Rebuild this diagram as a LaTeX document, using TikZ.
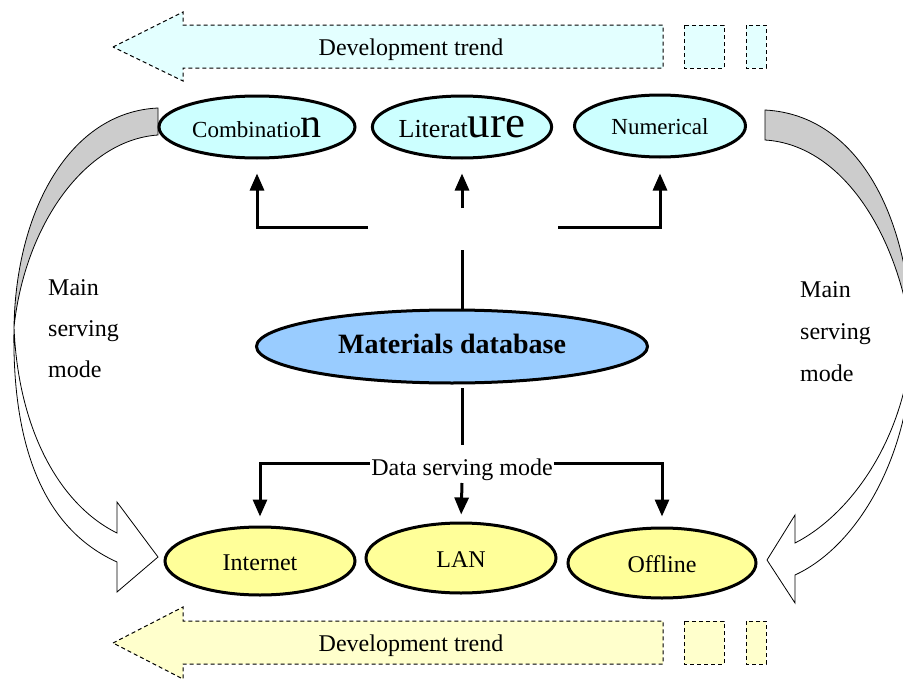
\documentclass[tikz,border=0pt]{standalone}
\usepackage{fontspec}
\setmainfont{Liberation Serif}
\usetikzlibrary{shapes.geometric,arrows.meta}
\definecolor{cyanfill}{HTML}{CCFFFF}
\definecolor{trendcyan}{HTML}{E3FFFF}
\definecolor{yellowfill}{HTML}{FFFF99}
\definecolor{trendyellow}{HTML}{FFFFCC}
\definecolor{dbblue}{HTML}{99CCFF}
\definecolor{bandgray}{HTML}{CCCCCC}
\begin{document}
\begin{tikzpicture}[x=1pt,y=-1pt,
  oval/.style={ellipse, draw, line width=3pt, inner sep=0pt},
  topoval/.style={oval, fill=cyanfill, text height=20pt, text depth=0pt, font=\fontsize{23}{23}\selectfont},
  botoval/.style={oval, fill=yellowfill, text height=18pt, text depth=0pt, font=\fontsize{24}{24}\selectfont},
  conn/.style={line width=3pt},
  connarrow/.style={line width=3pt, -{Triangle[length=17pt,width=14pt]}},
  trend/.style={draw, dash pattern=on 4pt off 3pt, line width=1pt},
  band/.style={draw, line width=0.8pt},
  lbl/.style={font=\fontsize{24}{24}\selectfont, inner sep=0pt}
]
\useasboundingbox (0,0) rectangle (903,680);
\clip (0,0) rectangle (903,680);

% development trend arrows
\path[trend, fill=trendcyan] (113,47) -- (183,12) -- (183,25) -- (663,25) -- (663,68) -- (183,68) -- (183,81) -- cycle;
\path[trend, fill=trendcyan] (684,25) rectangle (724,68);
\path[trend, fill=trendcyan] (746,25) rectangle (766,68);
\node[lbl, anchor=base] (trendtop) at (411,55) {Development trend};

\path[trend, fill=trendyellow] (113,643) -- (183,607) -- (183,621) -- (663,621) -- (663,664) -- (183,664) -- (183,679) -- cycle;
\path[trend, fill=trendyellow] (684,621) rectangle (724,664);
\path[trend, fill=trendyellow] (746,621) rectangle (766,664);
\node[lbl, anchor=base] (trendbot) at (411,651) {Development trend};

% curved band arrows, left
\path[band, fill=bandgray] (158,108) .. controls (70,112) and (16,210) .. (14,327)
   .. controls (25,225) and (85,140) .. (158,135) -- cycle;
\path[band, fill=white] (14,327) .. controls (12,430) and (35,525) .. (117,562)
   -- (117,592) -- (158,557) -- (117,502) -- (117,533)
   .. controls (60,505) and (18,430) .. (14,327) -- cycle;
% right
\path[band, fill=bandgray] (765,110) .. controls (860,115) and (910,220) .. (912,340)
   .. controls (900,240) and (845,145) .. (765,140) -- cycle;
\path[band, fill=white] (912,340) .. controls (913,450) and (860,545) .. (795,575)
   -- (795,603) -- (767,560) -- (795,515) -- (795,543)
   .. controls (850,515) and (905,440) .. (912,340) -- cycle;

\node[lbl, anchor=base west] (lm1) at (48,295) {Main};
\node[lbl, anchor=base west] (lm2) at (48,336) {serving};
\node[lbl, anchor=base west] (lm3) at (48,377) {mode};
\node[lbl, anchor=base west] (rm1) at (800,297) {Main};
\node[lbl, anchor=base west] (rm2) at (800,339) {serving};
\node[lbl, anchor=base west] (rm3) at (800,381) {mode};

% top ellipses
\node[topoval, minimum width=196pt, minimum height=62pt] (comb) at (257,127) {Combinatio{\fontsize{42}{42}\selectfont n}};
\node[topoval, minimum width=168pt, minimum height=62pt, font=\fontsize{26}{26}\selectfont] (lit) at (462,127) {Literat{\fontsize{45}{45}\selectfont ure}};
\node[topoval, minimum width=171pt, minimum height=62pt, text height=17pt] (num) at (660,126) {Numerical};

% database
\node[oval, fill=dbblue, minimum width=391pt, minimum height=73pt, text height=14pt, text depth=0pt,
      font=\fontsize{28}{28}\selectfont\bfseries] (db) at (452,346.5) {Materials database};

% bottom ellipses
\node[botoval, minimum width=190pt, minimum height=68pt] (inet) at (260,561) {Internet};
\node[botoval, minimum width=190pt, minimum height=70pt] (lan) at (461,558) {LAN};
\node[botoval, minimum width=188pt, minimum height=70pt] (off) at (662,563) {Offline};

% upper connectors
\coordinate (ctl) at (368,227);
\coordinate (ctm) at (462,208);
\coordinate (ctr) at (558,227);
\coordinate (dbtop) at (462,250);
\draw[connarrow, shorten >=14pt] (ctl) -| (comb.south);
\draw[connarrow, shorten >=14pt] (ctm) -- (lit.south);
\draw[connarrow, shorten >=15pt] (ctr) -| (num.south);
\draw[conn] (dbtop) -- (dbtop |- db.north);

% lower connectors
\coordinate (dbbot) at (462,388);
\coordinate (dbjoin) at (462,445);
\node[lbl, anchor=base] (dsm) at (462,475) {Data serving mode};
\coordinate (cbl) at ([xshift=-1pt]dsm.west |- 0,463);
\coordinate (cbr) at ([xshift=1pt]dsm.east |- 0,463);
\coordinate (cbm) at (462,483);
\draw[conn] (dbbot) -- (dbjoin);
\draw[connarrow, shorten >=9pt] (cbl) -| (inet.north);
\draw[connarrow, shorten >=7pt] (cbm) -- (lan.north);
\draw[connarrow, shorten >=10pt] (cbr) -| (off.north);
\end{tikzpicture}
\end{document}
